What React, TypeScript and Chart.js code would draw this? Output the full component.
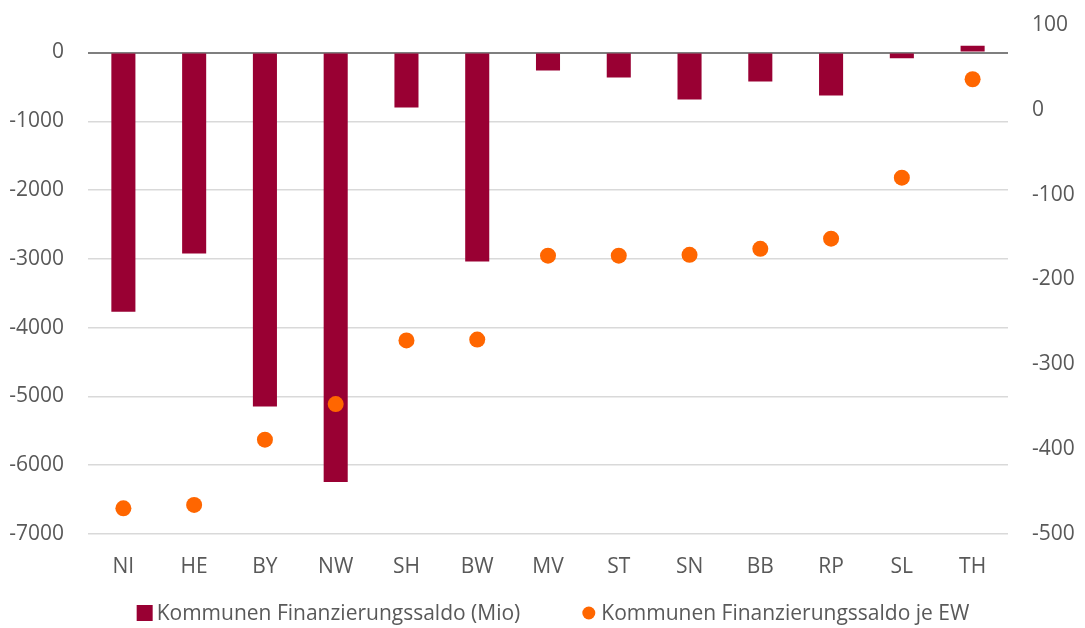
import React, { useEffect, useRef } from "react";
import { Chart, registerables } from "chart.js";

Chart.register(...registerables);

const categories = ["NI", "HE", "BY", "NW", "SH", "BW", "MV", "ST", "SN", "BB", "RP", "SL", "TH"];
const saldoMio = [-3770, -2925, -5150, -6245, -800, -3040, -260, -365, -685, -420, -625, -85, 100];
const saldoJeEW = [-470, -466, -389, -347, -272, -271, -172, -172, -171, -164, -152, -80, 36];
const leftTicks = [0, -1000, -2000, -3000, -4000, -5000, -6000, -7000];
const rightTicks = [100, 0, -100, -200, -300, -400, -500];
const legendLabels = ["Kommunen Finanzierungssaldo (Mio)", "Kommunen Finanzierungssaldo je EW"];

const FONT = "'Open Sans', sans-serif";
const TEXT = "#595959";
const BAR = "#990033";
const DOT = "#FF6600";

const legendPlugin = {
  id: "customLegend",
  afterDraw(chart: any) {
    const ctx = chart.ctx as CanvasRenderingContext2D;
    ctx.save();
    ctx.font = `21px ${FONT}`;
    ctx.textBaseline = "middle";
    ctx.textAlign = "left";
    ctx.fillStyle = TEXT;
    const cy = chart.height - 15;
    const w1 = ctx.measureText(legendLabels[0]).width;
    const w2 = ctx.measureText(legendLabels[1]).width;
    const total = 16 + 4 + w1 + 62 + 13 + 6 + w2;
    let x = 553 - total / 2;
    ctx.fillStyle = BAR;
    ctx.fillRect(x, cy - 8, 16, 16);
    x += 20;
    ctx.fillStyle = TEXT;
    ctx.fillText(legendLabels[0], x, cy + 1);
    x += w1 + 62;
    ctx.fillStyle = DOT;
    ctx.beginPath();
    ctx.arc(x + 6.5, cy, 6.5, 0, Math.PI * 2);
    ctx.fill();
    x += 19;
    ctx.fillStyle = TEXT;
    ctx.fillText(legendLabels[1], x, cy + 1);
    ctx.restore();
  },
};

export default function App() {
  const ref = useRef<HTMLCanvasElement | null>(null);
  useEffect(() => {
    if (!ref.current) return;
    const chart = new Chart(ref.current, {
      data: {
        labels: categories,
        datasets: [
          {
            type: "line",
            label: legendLabels[1],
            data: saldoJeEW,
            yAxisID: "y1",
            showLine: false,
            pointRadius: 8,
            pointHoverRadius: 8,
            pointBackgroundColor: DOT,
            pointBorderColor: DOT,
            pointBorderWidth: 0,
            backgroundColor: DOT,
            borderColor: DOT,
            order: 0,
          },
          {
            type: "bar",
            label: legendLabels[0],
            data: saldoMio,
            yAxisID: "y",
            backgroundColor: BAR,
            borderColor: BAR,
            barPercentage: 0.34,
            categoryPercentage: 1,
            order: 1,
          },
        ] as any,
      },
      plugins: [legendPlugin],
      options: {
        animation: false,
        responsive: false,
        maintainAspectRatio: false,
        layout: { padding: { top: 25, bottom: 35, left: 0, right: 0 } },
        plugins: {
          tooltip: { enabled: false },
          legend: { display: false },
        },
        scales: {
          x: {
            grid: { display: false },
            border: { display: false },
            ticks: { color: TEXT, font: { family: FONT, size: 21 }, padding: 13 },
          },
          y: {
            position: "left",
            min: -7000,
            max: 400,
            afterBuildTicks: (s: any) => {
              s.ticks = leftTicks.map((v) => ({ value: v }));
            },
            afterFit: (s: any) => {
              s.width = 88;
              s.paddingTop = 0;
              s.paddingBottom = 0;
            },
            border: { display: false },
            grid: {
              color: (c: any) => (c.tick && c.tick.value === 0 ? "#7f7f7f" : "#d9d9d9"),
              lineWidth: (c: any) => (c.tick && c.tick.value === 0 ? 2 : 1.5),
              drawTicks: false,
            },
            ticks: {
              color: TEXT,
              font: { family: FONT, size: 21 },
              padding: 24,
              callback: (v: any) => String(v),
            },
          },
          y1: {
            position: "right",
            min: -500,
            max: 100,
            afterBuildTicks: (s: any) => {
              s.ticks = rightTicks.map((v) => ({ value: v }));
            },
            afterFit: (s: any) => {
              s.width = 77;
              s.paddingTop = 0;
              s.paddingBottom = 0;
            },
            border: { display: false },
            grid: { display: false, drawTicks: false },
            ticks: {
              color: TEXT,
              font: { family: FONT, size: 21 },
              padding: 24,
              callback: (v: any) => String(v),
            },
          },
        },
      },
    });
    return () => chart.destroy();
  }, []);
  return (
    <div style={{ position: "fixed", left: 0, top: 0, width: 1085, height: 628, background: "#fff" }}>
      <canvas ref={ref} width={1085} height={628} style={{ width: 1085, height: 628 }} />
    </div>
  );
}
